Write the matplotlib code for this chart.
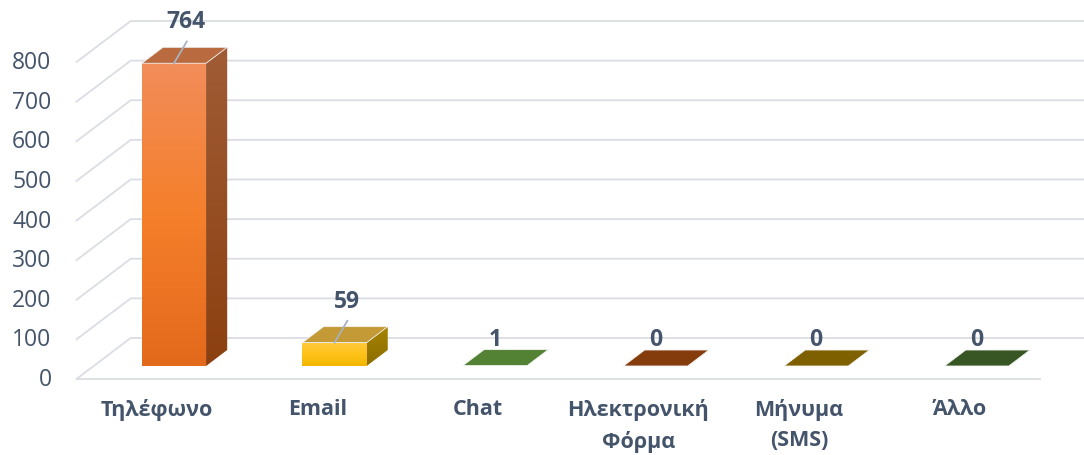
import numpy as np
import matplotlib
matplotlib.use('Agg')
import matplotlib.pyplot as plt
from matplotlib.patches import Polygon

# ---- data ----
categories = ['Τηλέφωνο', 'Email', 'Chat', 'Ηλεκτρονική\nΦόρμα', 'Μήνυμα\n(SMS)', 'Άλλο']
values = [764, 59, 1, 0, 0, 0]
yticks = [0, 100, 200, 300, 400, 500, 600, 700, 800]

# ---- styles ----
front_top = ['#F28D5A', '#FFCA40', '#5B8C3A', '#8A4212', '#846505', '#3A5B26']
front_mid = ['#F57F2B', '#FFC21A', '#578736', '#873F0E', '#816202', '#385824']
front_bot = ['#E3691C', '#F2B600', '#548235', '#843C0C', '#7F6000', '#375623']
side_top = ['#A05C36', '#A68400', '#3F6228', '#602C09', '#5E4700', '#284018']
side_bot = ['#8C4010', '#8C6C00', '#3A5A24', '#5A2908', '#584200', '#253C16']
top_col = ['#B96A3E', '#C49A36', '#548235', '#843C0C', '#7F6000', '#375623']
txt_col = '#44546A'
grid_col = '#DADDE3'

plt.rcParams['font.family'] = ['Open Sans', 'DejaVu Sans']

W, H = 1084, 456
fig = plt.figure(figsize=(W / 100, H / 100), dpi=100)
DX = 0.3375   # depth offset in category units
DY = 103.5    # depth offset in value units
D1, D2 = 0.317, 0.707
HW = 0.2
n = len(categories)
xmin, xmax = -0.5, n - 0.5 + DX
ymin, ymax = 0, max(yticks) + DY
left_px, right_px, bot_px, top_px = 76.5, 1094, 380, 22
ax = fig.add_axes([left_px / W, (H - bot_px) / H, (right_px - left_px) / W, (bot_px - top_px) / H])
ax.set_axis_off()


def P(x, v, d):
    return (x + DX * d, v + DY * d)


# grid
for t in yticks:
    a = P(-0.5, t, 0)
    b = P(-0.5, t, 1)
    c = P(n - 0.5, t, 1)
    ax.plot([a[0], b[0], c[0]], [a[1], b[1], c[1]], color=grid_col, lw=1.3, zorder=1,
            solid_joinstyle='miter', clip_on=False)
    ax.text(-0.655, t, f'{t}', ha='right', va='center', fontsize=16.5, color=txt_col)
a = P(-0.5, 0, 0)
b = P(n - 0.5, 0, 0)
ax.plot([a[0], b[0]], [a[1], b[1]], color=grid_col, lw=1.3, zorder=1, clip_on=False)


def grad_poly(pts, cols, z):
    poly = Polygon(pts, closed=True, facecolor='none', edgecolor='none', zorder=z)
    ax.add_patch(poly)
    xs = [p[0] for p in pts]
    ys = [p[1] for p in pts]
    cs = np.array([matplotlib.colors.to_rgb(c) for c in cols])
    pos = np.linspace(0, 1, len(cols))
    tt = np.linspace(0, 1, 256)
    img = np.stack([np.interp(tt, pos, cs[:, k]) for k in range(3)], axis=-1)[:, None, :]
    im = ax.imshow(img, extent=[min(xs), max(xs), min(ys), max(ys)], origin='upper',
                   aspect='auto', zorder=z, interpolation='bilinear')
    im.set_clip_path(poly)


for i, v in enumerate(values):
    front = [P(i - HW, 0, D1), P(i + HW, 0, D1), P(i + HW, v, D1), P(i - HW, v, D1)]
    side = [P(i + HW, 0, D1), P(i + HW, 0, D2), P(i + HW, v, D2), P(i + HW, v, D1)]
    top = [P(i - HW, v, D1), P(i + HW, v, D1), P(i + HW, v, D2), P(i - HW, v, D2)]
    if v > 2:
        grad_poly(side, [side_top[i], side_bot[i]], 3)
        grad_poly(front, [front_top[i], front_mid[i], front_bot[i]], 4)
    ax.add_patch(Polygon(top, closed=True, facecolor=top_col[i], edgecolor='#F2F2F2',
                         lw=0.6, zorder=5))
    fx, fy = P(i, v, D1)
    if v > 10:
        ax.plot([fx, fx + 0.08], [fy, fy + 55], color='#A6B2C2', lw=1.3, zorder=6)
        ax.text(fx + 0.075, fy + 106, f'{v}', ha='center', va='center', fontsize=16.5,
                fontweight='bold', color=txt_col, zorder=7)
    else:
        ax.text(fx, fy + 68, f'{v}', ha='center', va='center', fontsize=16.5,
                fontweight='bold', color=txt_col, zorder=7)
    ax.text(i, -47, categories[i], ha='center', va='top', fontsize=15.5,
            fontweight='bold', color=txt_col, linespacing=1.6)

ax.set_xlim(xmin, xmax)
ax.set_ylim(ymin, ymax)
fig.savefig('out.png', dpi=100)
